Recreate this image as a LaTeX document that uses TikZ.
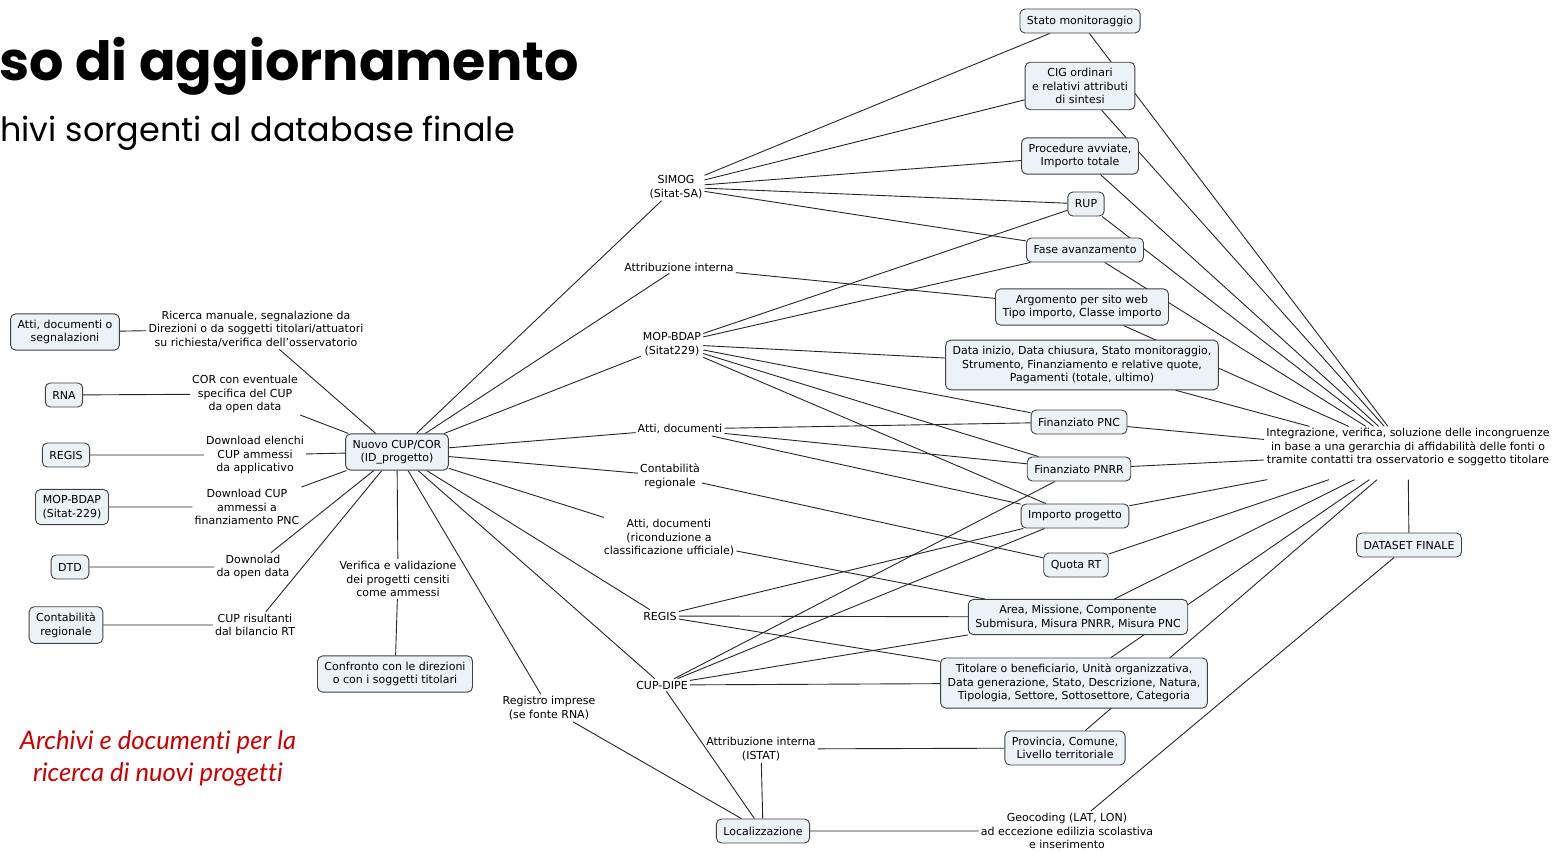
\documentclass[tikz,border=0pt]{standalone}
\usepackage{fontspec}
\usetikzlibrary{backgrounds}
\newfontfamily\mapfont{DejaVu Sans}
\newfontfamily\titlefont{Poppins}
\newfontfamily\notefont{Lato}[Ligatures=NoCommon]
\definecolor{cmapfill}{RGB}{236,243,247}
\definecolor{notered}{RGB}{204,0,0}

\begin{document}
\begin{tikzpicture}[x=1pt,y=-1pt,
  concept/.style={draw=black!75,line width=0.9pt,fill=cmapfill,rounded corners=5pt,inner xsep=7pt,inner ysep=6pt,minimum height=24pt,align=center,font=\mapfont\fontsize{11}{13.5}\selectfont},
  link/.style={inner sep=2pt,align=center,font=\mapfont\fontsize{11}{13.5}\selectfont},
  edge/.style={draw=black!85,line width=0.9pt}]
\useasboundingbox (0,0) rectangle (1554,851);

\node[anchor=base west,inner sep=0pt,font=\titlefont\bfseries\fontsize{54}{60}\selectfont] (titolo) at (-1,80) {so di aggiornamento};
\node[anchor=base west,inner sep=0pt,font=\titlefont\fontsize{33.4}{40}\selectfont] (sottotitolo) at (0,141) {hivi sorgenti al database finale};
\node[align=center,text=notered,font=\notefont\itshape\fontsize{25.6}{32}\selectfont] (nota) at (158,758) {Archivi e documenti per la\\ricerca di nuovi progetti};

% archivi di partenza
\node[concept] (atti) at (65,332) {Atti, documenti o\\segnalazioni};
\node[concept] (rna) at (64,395) {RNA};
\node[concept] (regisL) at (66,455) {REGIS};
\node[concept] (mopL) at (72,507) {MOP-BDAP\\(Sitat-229)};
\node[concept] (dtd) at (70,567) {DTD};
\node[concept] (contL) at (66,625) {Contabilità\\regionale};

\node[link] (ricerca) at (256,329) {Ricerca manuale, segnalazione da\\Direzioni o da soggetti titolari/attuatori\\su richiesta/verifica dell’osservatorio};
\node[link] (corEv) at (245,394) {COR con eventuale\\specifica del CUP\\da open data};
\node[link] (dlElenchi) at (255,455) {Download elenchi\\CUP ammessi\\da applicativo};
\node[link] (dlCup) at (247,507) {Download CUP\\ammessi a\\finanziamento PNC};
\node[link] (dlOpen) at (253,567) {Downolad\\da open data};
\node[link] (cupRis) at (255,625) {CUP risultanti\\dal bilancio RT};

% progetto
\node[concept] (nc) at (397,452) {Nuovo CUP/COR\\(ID\_progetto)};
\node[link] (verifica) at (398,579) {Verifica e validazione\\dei progetti censiti\\come ammessi};
\node[concept] (confronto) at (395,674) {Confronto con le direzioni\\o con i soggetti titolari};
\node[link] (registro) at (549,708) {Registro imprese\\(se fonte RNA)};
\node[concept] (loc) at (763,831) {Localizzazione};

\node[link] (simog) at (676,187) {SIMOG\\(Sitat-SA)};
\node[link] (attrInt) at (679,267) {Attribuzione interna};
\node[link] (mopR) at (672,344) {MOP-BDAP\\(Sitat229)};
\node[link] (attiDoc) at (680,429) {Atti, documenti};
\node[link] (contR) at (670,476) {Contabilità\\regionale};
\node[link] (attiRic) at (669,538) {Atti, documenti\\(riconduzione a\\classificazione ufficiale)};
\node[link] (regisR) at (660,616) {REGIS};
\node[link] (cupDipe) at (662,685) {CUP-DIPE};
\node[link] (attrIstat) at (761,749) {Attribuzione interna\\(ISTAT)};
\node[link] (geocod) at (1067,831) {Geocoding (LAT, LON)\\ad eccezione edilizia scolastiva\\e inserimento};

% attributi
\node[concept] (stato) at (1080,21) {Stato monitoraggio};
\node[concept] (cig) at (1080,86) {CIG ordinari\\e relativi attributi\\di sintesi};
\node[concept] (proc) at (1080,156) {Procedure avviate,\\Importo totale};
\node[concept] (rup) at (1086,204) {RUP};
\node[concept] (fase) at (1085,250) {Fase avanzamento};
\node[concept] (argom) at (1082,307) {Argomento per sito web\\Tipo importo, Classe importo};
\node[concept] (dataIn) at (1082,365) {Data inizio, Data chiusura, Stato monitoraggio,\\Strumento, Finanziamento e relative quote,\\Pagamenti (totale, ultimo)};
\node[concept] (finPnc) at (1079,422) {Finanziato PNC};
\node[concept] (finPnrr) at (1079,469) {Finanziato PNRR};
\node[concept] (importo) at (1075,516) {Importo progetto};
\node[concept] (quota) at (1076,565) {Quota RT};
\node[concept] (area) at (1078,617) {Area, Missione, Componente\\Submisura, Misura PNRR, Misura PNC};
\node[concept] (titolare) at (1074,683) {Titolare o beneficiario, Unità organizzativa,\\Data generazione, Stato, Descrizione, Natura,\\Tipologia, Settore, Sottosettore, Categoria};
\node[concept] (prov) at (1065,748) {Provincia, Comune,\\Livello territoriale};

\node[link] (integr) at (1408,453) {Integrazione, verifica, soluzione delle incongruenze\\in base a una gerarchia di affidabilità delle fonti o\\tramite contatti tra osservatorio e soggetto titolare\\ \mbox{}};
\node[concept] (dataset) at (1409,545) {DATASET FINALE};

\begin{scope}[on background layer]
\fill[white] (0,0) rectangle (1554,851);
\draw[edge] (atti) -- (ricerca) (ricerca) -- (nc);
\draw[edge] (rna) -- (corEv) (corEv) -- (nc);
\draw[edge] (regisL) -- (dlElenchi) (dlElenchi) -- (nc);
\draw[edge] (mopL) -- (dlCup) (dlCup) -- (nc);
\draw[edge] (dtd) -- (dlOpen) (dlOpen) -- (nc);
\draw[edge] (contL) -- (cupRis) (cupRis) -- (nc);
\draw[edge] (nc) -- (verifica) (verifica) -- (confronto);
\draw[edge] (nc) -- (registro) (registro) -- (loc);
\draw[edge] (nc) -- (simog) (nc) -- (attrInt) (nc) -- (mopR) (nc) -- (attiDoc);
\draw[edge] (nc) -- (contR) (nc) -- (attiRic) (nc) -- (regisR) (nc) -- (cupDipe);
\draw[edge] (simog) -- (stato) (simog) -- (cig) (simog) -- (proc) (simog) -- (rup) (simog) -- (fase);
\draw[edge] (attrInt) -- (argom);
\draw[edge] (mopR) -- (rup) (mopR) -- (fase) (mopR) -- (dataIn) (mopR) -- (finPnc) (mopR) -- (finPnrr) (mopR) -- (importo);
\draw[edge] (attiDoc) -- (finPnc) (attiDoc) -- (finPnrr) (attiDoc) -- (importo);
\draw[edge] (contR) -- (quota);
\draw[edge] (attiRic) -- (area);
\draw[edge] (regisR) -- (importo) (regisR) -- (area) (regisR) -- (titolare);
\draw[edge] (cupDipe) -- (finPnrr) (cupDipe) -- (importo) (cupDipe) -- (area) (cupDipe) -- (titolare) (cupDipe) -- (loc);
\draw[edge] (loc) -- (attrIstat) (attrIstat) -- (prov);
\draw[edge] (loc) -- (geocod) (geocod) -- (dataset);
\draw[edge] (stato) -- (integr) (cig) -- (integr) (proc) -- (integr) (rup) -- (integr) (fase) -- (integr);
\draw[edge] (argom) -- (integr) (dataIn) -- (integr) (finPnc) -- (integr) (finPnrr) -- (integr);
\draw[edge] (importo) -- (integr) (quota) -- (integr) (area) -- (integr) (titolare) -- (integr) (prov) -- (integr);
\draw[edge] (integr) -- (dataset);
\end{scope}
\end{tikzpicture}
\end{document}
